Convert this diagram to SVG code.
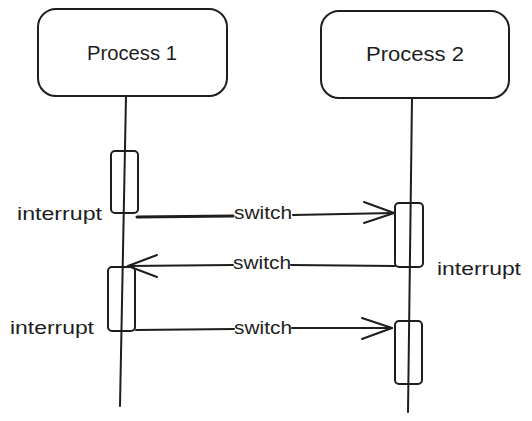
<svg xmlns="http://www.w3.org/2000/svg" width="532" height="421" viewBox="0 0 532 421">
<style>
.s{fill:none;stroke:#1e1e1e;stroke-width:2;stroke-linecap:round;stroke-linejoin:round}
.t{font-family:"Liberation Sans",Arial,sans-serif;font-size:20px;fill:#1e1e1e}
.l{font-family:"Liberation Sans",Arial,sans-serif;font-size:18px;fill:#1e1e1e}
</style>
<rect width="532" height="421" fill="#ffffff"/>
<g id="process1">
<rect class="s" x="38" y="9" width="189" height="87" rx="18"/>
<text class="t" x="132" y="60" text-anchor="middle" textLength="90" lengthAdjust="spacingAndGlyphs">Process 1</text>
</g>
<g id="process2">
<rect class="s" x="321" y="11" width="188" height="87" rx="18"/>
<text class="t" x="415" y="61" text-anchor="middle" textLength="98" lengthAdjust="spacingAndGlyphs">Process 2</text>
</g>
<g id="lifelines">
<line class="s" x1="126" y1="96" x2="120" y2="406"/>
<line class="s" x1="412" y1="98" x2="408" y2="412"/>
</g>
<g id="act1"><rect class="s" x="111" y="151" width="27" height="62" rx="4"/></g>
<g id="act2"><rect class="s" x="395" y="203" width="28" height="64" rx="4"/></g>
<g id="act3"><rect class="s" x="108" y="267" width="27" height="64" rx="4"/></g>
<g id="act4"><rect class="s" x="395" y="321" width="27" height="63" rx="4"/></g>
<g id="labels">
<text class="l" x="17" y="220" textLength="85" lengthAdjust="spacingAndGlyphs">interrupt</text>
<text class="l" x="437" y="275" textLength="84" lengthAdjust="spacingAndGlyphs">interrupt</text>
<text class="l" x="10" y="334" textLength="84" lengthAdjust="spacingAndGlyphs">interrupt</text>
</g>
<g id="connectors">
<path class="s" d="M137 217 L233 216" style="stroke-width:3"/>
<path class="s" d="M293 215 L394 213"/>
<path class="s" d="M364 202 L394 213 L364 223"/>
<text class="l" x="263" y="219" text-anchor="middle" textLength="58" lengthAdjust="spacingAndGlyphs">switch</text>
<path class="s" d="M395 266 L291 265"/>
<path class="s" d="M233 265 L128 266"/>
<path class="s" d="M157 255 L128 266 L157 277"/>
<text class="l" x="262" y="269" text-anchor="middle" textLength="58" lengthAdjust="spacingAndGlyphs">switch</text>
<path class="s" d="M136 330 L234 329"/>
<path class="s" d="M292 328 L392 328"/>
<path class="s" d="M362 318 L392 328 L362 339"/>
<text class="l" x="263" y="334" text-anchor="middle" textLength="58" lengthAdjust="spacingAndGlyphs">switch</text>
</g>
</svg>
